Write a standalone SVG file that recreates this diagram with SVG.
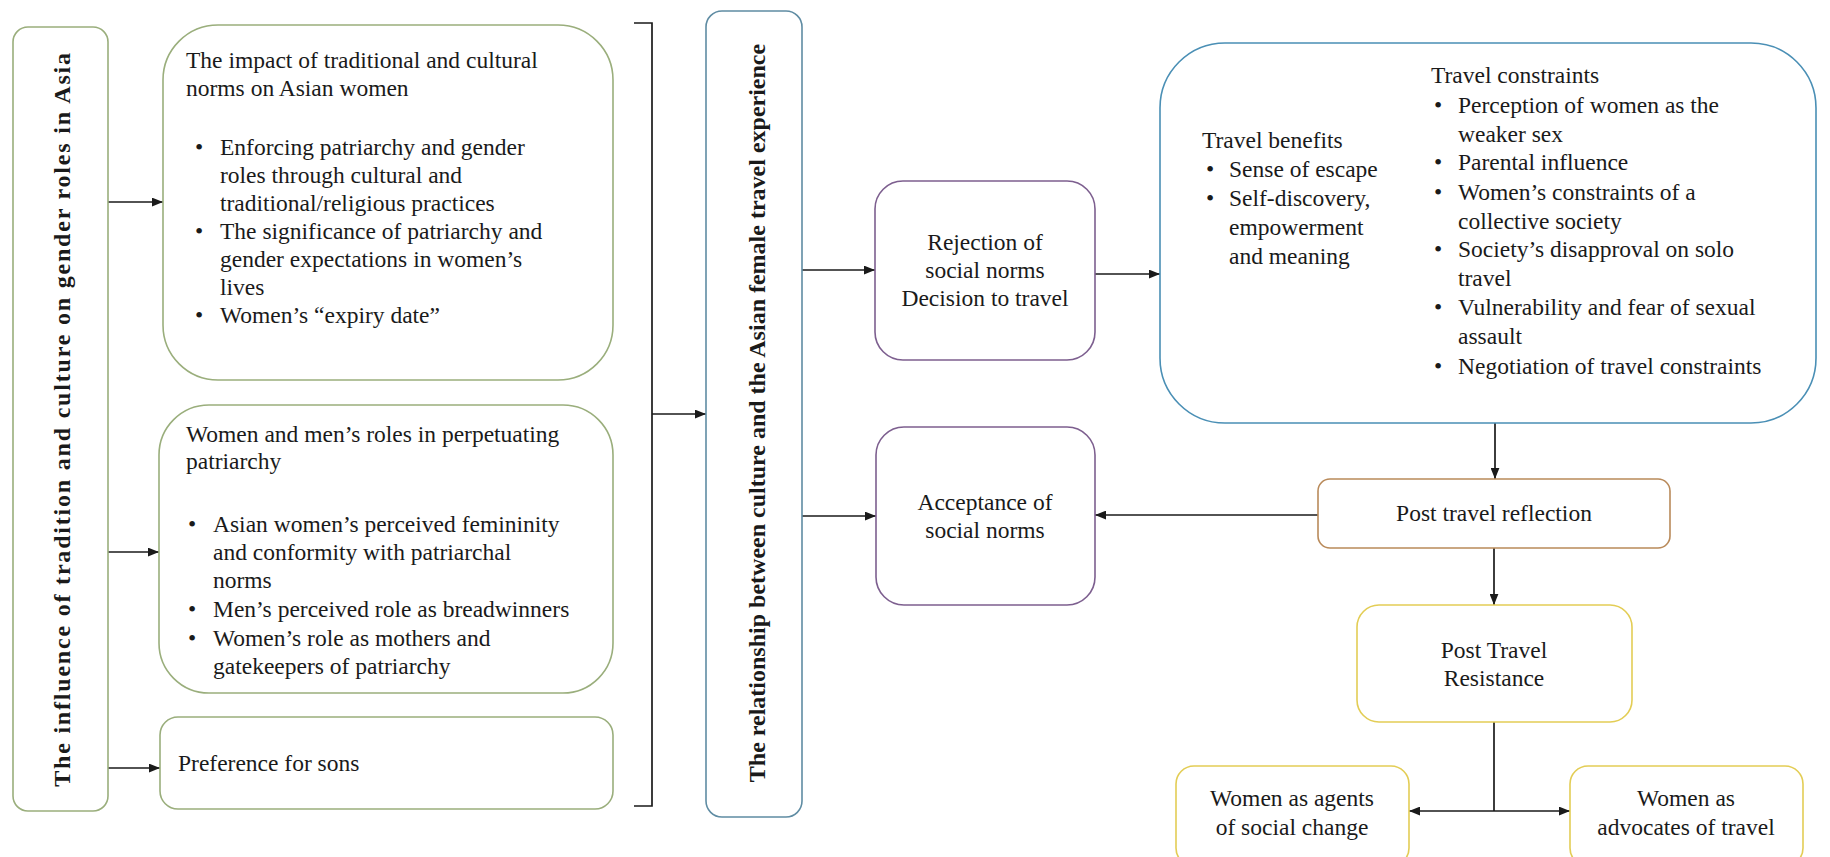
<svg xmlns="http://www.w3.org/2000/svg" width="1830" height="857" viewBox="0 0 1830 857">
<style>
.box{fill:#fff;stroke-width:1.6}
.gr{stroke:#9aae7c}
.bl{stroke:#5f8ca3}
.bb{stroke:#4a8fb5}
.pu{stroke:#7d5f8f}
.or{stroke:#b98a5a}
.ye{stroke:#e3cd55}
text{font-family:"Liberation Serif","Times New Roman",serif;font-size:23.5px;fill:#1a1a1a}
.bold{font-weight:bold;font-size:24px}
.c{text-anchor:middle}
.conn path{stroke:#1a1a1a;stroke-width:1.7;fill:none}
</style>
<defs>
<marker id="ah" viewBox="0 0 10 8" refX="10" refY="4" markerWidth="11" markerHeight="9" markerUnits="userSpaceOnUse" orient="auto">
<path d="M0,0 L10,4 L0,8 z" fill="#1a1a1a"/>
</marker>
</defs>
<rect width="1830" height="857" fill="#fff"/>

<g id="conn" class="conn">
<path d="M108,202 H163" marker-end="url(#ah)"/>
<path d="M108,552 H159" marker-end="url(#ah)"/>
<path d="M108,768 H160" marker-end="url(#ah)"/>
<path d="M634,23 H652 V806 H634"/>
<path d="M652,414 H706" marker-end="url(#ah)"/>
<path d="M802,270 H875" marker-end="url(#ah)"/>
<path d="M1095,274 H1160" marker-end="url(#ah)"/>
<path d="M802,516 H876" marker-end="url(#ah)"/>
<path d="M1318,515 H1095" marker-end="url(#ah)"/>
<path d="M1495,423 V479" marker-end="url(#ah)"/>
<path d="M1494,548 V605" marker-end="url(#ah)"/>
<path d="M1494,722 V811"/>
<path d="M1494,811 H1409" marker-end="url(#ah)"/>
<path d="M1494,811 H1570" marker-end="url(#ah)"/>
</g>

<g id="influence">
<rect class="box gr" x="13" y="27" width="95" height="784" rx="15"/>
<text class="bold c" letter-spacing="1.8" transform="translate(70,419) rotate(-90)">The influence of tradition and culture on gender roles in Asia</text>
</g>

<g id="impact">
<rect class="box gr" x="163" y="25" width="450" height="355" rx="55"/>
<text x="186" y="68">The impact of traditional and cultural</text>
<text x="186" y="96">norms on Asian women</text>
<text x="195" y="155">•</text><text x="220" y="155">Enforcing patriarchy and gender</text>
<text x="220" y="183">roles through cultural and</text>
<text x="220" y="211">traditional/religious practices</text>
<text x="195" y="239">•</text><text x="220" y="239">The significance of patriarchy and</text>
<text x="220" y="267">gender expectations in women’s</text>
<text x="220" y="295">lives</text>
<text x="195" y="323">•</text><text x="220" y="323">Women’s “expiry date”</text>
</g>

<g id="roles">
<rect class="box gr" x="159" y="405" width="454" height="288" rx="50"/>
<text x="186" y="442">Women and men’s roles in perpetuating</text>
<text x="186" y="469">patriarchy</text>
<text x="188" y="532">•</text><text x="213" y="532">Asian women’s perceived femininity</text>
<text x="213" y="560">and conformity with patriarchal</text>
<text x="213" y="588">norms</text>
<text x="188" y="617">•</text><text x="213" y="617">Men’s perceived role as breadwinners</text>
<text x="188" y="646">•</text><text x="213" y="646">Women’s role as mothers and</text>
<text x="213" y="674">gatekeepers of patriarchy</text>
</g>

<g id="sons">
<rect class="box gr" x="160" y="717" width="453" height="92" rx="18"/>
<text x="178" y="771">Preference for sons</text>
</g>

<g id="relationship">
<rect class="box bl" x="706" y="11" width="96" height="806" rx="16"/>
<text class="bold c" transform="translate(765,413) rotate(-90)">The relationship between culture and the Asian female travel experience</text>
</g>

<g id="rejection">
<rect class="box pu" x="875" y="181" width="220" height="179" rx="28"/>
<text class="c" x="985" y="250">Rejection of</text>
<text class="c" x="985" y="278">social norms</text>
<text class="c" x="985" y="306">Decision to travel</text>
</g>

<g id="acceptance">
<rect class="box pu" x="876" y="427" width="219" height="178" rx="28"/>
<text class="c" x="985" y="510">Acceptance of</text>
<text class="c" x="985" y="538">social norms</text>
</g>

<g id="travel">
<rect class="box bb" x="1160" y="43" width="656" height="380" rx="65"/>
<text x="1202" y="148">Travel benefits</text>
<text x="1206" y="177">•</text><text x="1229" y="177">Sense of escape</text>
<text x="1206" y="206">•</text><text x="1229" y="206">Self-discovery,</text>
<text x="1229" y="235">empowerment</text>
<text x="1229" y="264">and meaning</text>
<text x="1431" y="83">Travel constraints</text>
<text x="1434" y="113">•</text><text x="1458" y="113">Perception of women as the</text>
<text x="1458" y="142">weaker sex</text>
<text x="1434" y="170">•</text><text x="1458" y="170">Parental influence</text>
<text x="1434" y="200">•</text><text x="1458" y="200">Women’s constraints of a</text>
<text x="1458" y="229">collective society</text>
<text x="1434" y="257">•</text><text x="1458" y="257">Society’s disapproval on solo</text>
<text x="1458" y="286">travel</text>
<text x="1434" y="315">•</text><text x="1458" y="315">Vulnerability and fear of sexual</text>
<text x="1458" y="344">assault</text>
<text x="1434" y="374">•</text><text x="1458" y="374">Negotiation of travel constraints</text>
</g>

<g id="reflection">
<rect class="box or" x="1318" y="479" width="352" height="69" rx="12"/>
<text class="c" x="1494" y="521">Post travel reflection</text>
</g>

<g id="resistance">
<rect class="box ye" x="1357" y="605" width="275" height="117" rx="22"/>
<text class="c" x="1494" y="658">Post Travel</text>
<text class="c" x="1494" y="686">Resistance</text>
</g>

<g id="agents">
<rect class="box ye" x="1176" y="766" width="233" height="100" rx="18"/>
<text class="c" x="1292" y="806">Women as agents</text>
<text class="c" x="1292" y="835">of social change</text>
</g>

<g id="advocates">
<rect class="box ye" x="1570" y="766" width="233" height="100" rx="18"/>
<text class="c" x="1686" y="806">Women as</text>
<text class="c" x="1686" y="835">advocates of travel</text>
</g>
</svg>
